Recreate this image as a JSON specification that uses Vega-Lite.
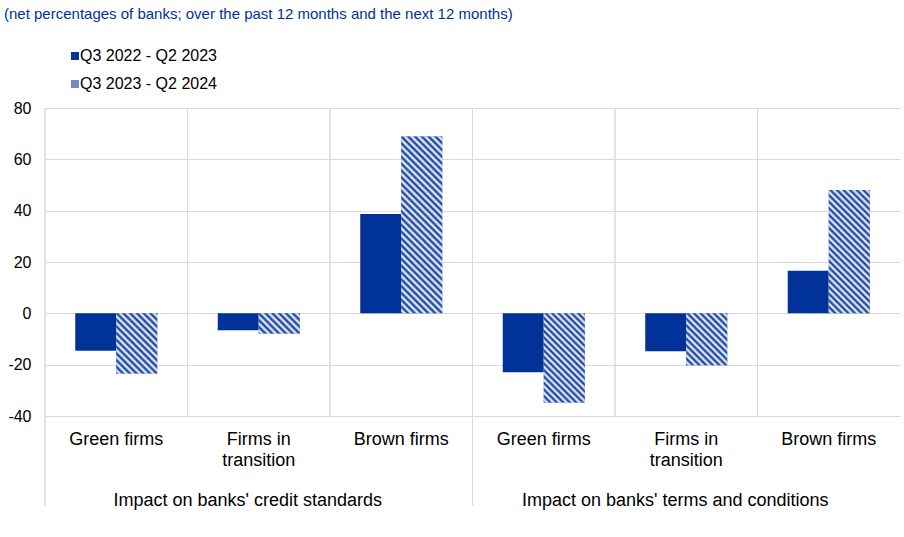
{
"$schema": "https://vega.github.io/schema/vega-lite/v6.json",
"width": 855,
"height": 308,
"autosize": {"type": "none"},
"padding": {"left": 45, "top": 108, "right": 4, "bottom": 121},
"background": "#ffffff",
"config": {"font": "Liberation Sans", "view": {"stroke": null},
 "axisX": {"title": null, "domain": false, "ticks": false, "grid": false, "labelAngle": 0, "labelFontSize": 18, "labelColor": "#000000", "labelPadding": 14, "labelLineHeight": 21, "labelLimit": 0,
  "labelExpr": "split(datum.value, '|')[0] === 'Firms in transition' ? ['Firms in', 'transition'] : split(datum.value, '|')[0]"},
 "axisY": {"title": null, "values": [-40, -20, 0, 20, 40, 60, 80], "domain": false, "ticks": false, "grid": true, "gridColor": "#d9d9d9", "labelFontSize": 16, "labelColor": "#000000", "labelPadding": 14,
  "labelExpr": "(datum.value < 0 ? '-' : '') + abs(datum.value)"}
},
"title": {"text": "(net percentages of banks; over the past 12 months and the next 12 months)", "anchor": "start", "frame": "group", "dx": -41, "offset": 26, "fontSize": 15, "fontWeight": "normal", "color": "#003299", "font": "Liberation Sans"},
"data": {"values": [
 {"cat": "Green firms|credit", "series": "Q3 2022 - Q2 2023", "value": -14.6},
 {"cat": "Green firms|credit", "series": "Q3 2023 - Q2 2024", "value": -23.4},
 {"cat": "Firms in transition|credit", "series": "Q3 2022 - Q2 2023", "value": -6.6},
 {"cat": "Firms in transition|credit", "series": "Q3 2023 - Q2 2024", "value": -7.9},
 {"cat": "Brown firms|credit", "series": "Q3 2022 - Q2 2023", "value": 38.7},
 {"cat": "Brown firms|credit", "series": "Q3 2023 - Q2 2024", "value": 68.9},
 {"cat": "Green firms|terms", "series": "Q3 2022 - Q2 2023", "value": -23.0},
 {"cat": "Green firms|terms", "series": "Q3 2023 - Q2 2024", "value": -34.7},
 {"cat": "Firms in transition|terms", "series": "Q3 2022 - Q2 2023", "value": -14.8},
 {"cat": "Firms in transition|terms", "series": "Q3 2023 - Q2 2024", "value": -20.2},
 {"cat": "Brown firms|terms", "series": "Q3 2022 - Q2 2023", "value": 16.6},
 {"cat": "Brown firms|terms", "series": "Q3 2023 - Q2 2024", "value": 48.1}
]},
"layer": [
 {
  "mark": {"type": "rule", "color": "#d9d9d9", "strokeWidth": 1},
  "encoding": {
   "x": {"field": "cat", "type": "nominal", "bandPosition": 0, "scale": {"domain": ["Green firms|credit", "Firms in transition|credit", "Brown firms|credit", "Green firms|terms", "Firms in transition|terms", "Brown firms|terms"], "paddingInner": 0, "paddingOuter": 0}},
   "y": {"datum": 80, "type": "quantitative", "scale": {"domain": [-40, 80], "nice": false, "zero": false}},
   "y2": {"datum": -40}
  }
 },
 {
  "transform": [{"filter": "datum.cat === 'Green firms|credit' || datum.cat === 'Green firms|terms'"}],
  "mark": {"type": "rule", "color": "#d9d9d9", "strokeWidth": 1},
  "encoding": {
   "x": {"field": "cat", "type": "nominal", "bandPosition": 0, "scale": {"domain": ["Green firms|credit", "Firms in transition|credit", "Brown firms|credit", "Green firms|terms", "Firms in transition|terms", "Brown firms|terms"], "paddingInner": 0, "paddingOuter": 0}},
   "y": {"datum": -40, "type": "quantitative", "scale": {"domain": [-40, 80], "nice": false, "zero": false}},
   "y2": {"datum": -75}
  }
 },
 {
  "mark": {"type": "bar"},
  "encoding": {
   "x": {"field": "cat", "type": "nominal", "scale": {"domain": ["Green firms|credit", "Firms in transition|credit", "Brown firms|credit", "Green firms|terms", "Firms in transition|terms", "Brown firms|terms"], "paddingInner": 0, "paddingOuter": 0}},
   "xOffset": {"field": "series", "type": "nominal", "scale": {"domain": ["Q3 2022 - Q2 2023", "Q3 2023 - Q2 2024"], "paddingInner": 0, "paddingOuter": 0.7378}},
   "y": {"field": "value", "type": "quantitative", "scale": {"domain": [-40, 80], "nice": false, "zero": false}},
   "fill": {"field": "series", "type": "nominal", "scale": {"domain": ["Q3 2022 - Q2 2023", "Q3 2023 - Q2 2024"], "range": ["#003299", "#7388c8"]},
    "legend": {"orient": "none", "legendX": 22, "legendY": -60, "title": null, "direction": "vertical", "labelFontSize": 16, "labelColor": "#000000", "symbolType": "square", "symbolSize": 64, "symbolStrokeWidth": 0, "rowPadding": 12, "labelOffset": -3}}
  }
 },
 {
  "transform": [{"filter": "datum.series === 'Q3 2023 - Q2 2024'"}],
  "mark": {"type": "bar"},
  "encoding": {
   "x": {"field": "cat", "type": "nominal", "scale": {"domain": ["Green firms|credit", "Firms in transition|credit", "Brown firms|credit", "Green firms|terms", "Firms in transition|terms", "Brown firms|terms"], "paddingInner": 0, "paddingOuter": 0}},
   "xOffset": {"field": "series", "type": "nominal", "scale": {"domain": ["Q3 2022 - Q2 2023", "Q3 2023 - Q2 2024"], "paddingInner": 0, "paddingOuter": 0.7378}},
   "y": {"field": "value", "type": "quantitative", "scale": {"domain": [-40, 80], "nice": false, "zero": false}},
   "fill": {"condition": [
    {"test": "datum.cat === 'Green firms|credit'", "value": {"gradient": "linear", "x1": 0, "y1": 1, "x2": 0.7831, "y2": -0.148, "stops": [
     {"offset": 0, "color": "#003299"}, {"offset": 0.0333, "color": "#ffffff"}, {"offset": 0.0667, "color": "#003299"}, {"offset": 0.1, "color": "#ffffff"}, {"offset": 0.1333, "color": "#003299"}, {"offset": 0.1667, "color": "#ffffff"}, {"offset": 0.2, "color": "#003299"}, {"offset": 0.2333, "color": "#ffffff"}, {"offset": 0.2667, "color": "#003299"}, {"offset": 0.3, "color": "#ffffff"}, {"offset": 0.3333, "color": "#003299"}, {"offset": 0.3667, "color": "#ffffff"}, {"offset": 0.4, "color": "#003299"}, {"offset": 0.4333, "color": "#ffffff"}, {"offset": 0.4667, "color": "#003299"}, {"offset": 0.5, "color": "#ffffff"}, {"offset": 0.5333, "color": "#003299"}, {"offset": 0.5667, "color": "#ffffff"}, {"offset": 0.6, "color": "#003299"}, {"offset": 0.6333, "color": "#ffffff"}, {"offset": 0.6667, "color": "#003299"}, {"offset": 0.7, "color": "#ffffff"}, {"offset": 0.7333, "color": "#003299"}, {"offset": 0.7667, "color": "#ffffff"}, {"offset": 0.8, "color": "#003299"}, {"offset": 0.8333, "color": "#ffffff"}, {"offset": 0.8667, "color": "#003299"}, {"offset": 0.9, "color": "#ffffff"}, {"offset": 0.9333, "color": "#003299"}, {"offset": 0.9667, "color": "#ffffff"}, {"offset": 1, "color": "#003299"}]}},
    {"test": "datum.cat === 'Firms in transition|credit'", "value": {"gradient": "linear", "x1": 0, "y1": 1, "x2": 1.2008, "y2": 0.4055, "stops": [
     {"offset": 0, "color": "#003299"}, {"offset": 0.0556, "color": "#ffffff"}, {"offset": 0.1111, "color": "#003299"}, {"offset": 0.1667, "color": "#ffffff"}, {"offset": 0.2222, "color": "#003299"}, {"offset": 0.2778, "color": "#ffffff"}, {"offset": 0.3333, "color": "#003299"}, {"offset": 0.3889, "color": "#ffffff"}, {"offset": 0.4444, "color": "#003299"}, {"offset": 0.5, "color": "#ffffff"}, {"offset": 0.5556, "color": "#003299"}, {"offset": 0.6111, "color": "#ffffff"}, {"offset": 0.6667, "color": "#003299"}, {"offset": 0.7222, "color": "#ffffff"}, {"offset": 0.7778, "color": "#003299"}, {"offset": 0.8333, "color": "#ffffff"}, {"offset": 0.8889, "color": "#003299"}, {"offset": 0.9444, "color": "#ffffff"}, {"offset": 1, "color": "#003299"}]}},
    {"test": "datum.cat === 'Brown firms|credit'", "value": {"gradient": "linear", "x1": 0, "y1": 1, "x2": 0.2711, "y2": -0.169, "stops": [
     {"offset": 0, "color": "#003299"}, {"offset": 0.0156, "color": "#ffffff"}, {"offset": 0.0313, "color": "#003299"}, {"offset": 0.0469, "color": "#ffffff"}, {"offset": 0.0625, "color": "#003299"}, {"offset": 0.0781, "color": "#ffffff"}, {"offset": 0.0938, "color": "#003299"}, {"offset": 0.1094, "color": "#ffffff"}, {"offset": 0.125, "color": "#003299"}, {"offset": 0.1406, "color": "#ffffff"}, {"offset": 0.1563, "color": "#003299"}, {"offset": 0.1719, "color": "#ffffff"}, {"offset": 0.1875, "color": "#003299"}, {"offset": 0.2031, "color": "#ffffff"}, {"offset": 0.2188, "color": "#003299"}, {"offset": 0.2344, "color": "#ffffff"}, {"offset": 0.25, "color": "#003299"}, {"offset": 0.2656, "color": "#ffffff"}, {"offset": 0.2813, "color": "#003299"}, {"offset": 0.2969, "color": "#ffffff"}, {"offset": 0.3125, "color": "#003299"}, {"offset": 0.3281, "color": "#ffffff"}, {"offset": 0.3438, "color": "#003299"}, {"offset": 0.3594, "color": "#ffffff"}, {"offset": 0.375, "color": "#003299"}, {"offset": 0.3906, "color": "#ffffff"}, {"offset": 0.4063, "color": "#003299"}, {"offset": 0.4219, "color": "#ffffff"}, {"offset": 0.4375, "color": "#003299"}, {"offset": 0.4531, "color": "#ffffff"}, {"offset": 0.4688, "color": "#003299"}, {"offset": 0.4844, "color": "#ffffff"}, {"offset": 0.5, "color": "#003299"}, {"offset": 0.5156, "color": "#ffffff"}, {"offset": 0.5313, "color": "#003299"}, {"offset": 0.5469, "color": "#ffffff"}, {"offset": 0.5625, "color": "#003299"}, {"offset": 0.5781, "color": "#ffffff"}, {"offset": 0.5938, "color": "#003299"}, {"offset": 0.6094, "color": "#ffffff"}, {"offset": 0.625, "color": "#003299"}, {"offset": 0.6406, "color": "#ffffff"}, {"offset": 0.6563, "color": "#003299"}, {"offset": 0.6719, "color": "#ffffff"}, {"offset": 0.6875, "color": "#003299"}, {"offset": 0.7031, "color": "#ffffff"}, {"offset": 0.7188, "color": "#003299"}, {"offset": 0.7344, "color": "#ffffff"}, {"offset": 0.75, "color": "#003299"}, {"offset": 0.7656, "color": "#ffffff"}, {"offset": 0.7813, "color": "#003299"}, {"offset": 0.7969, "color": "#ffffff"}, {"offset": 0.8125, "color": "#003299"}, {"offset": 0.8281, "color": "#ffffff"}, {"offset": 0.8438, "color": "#003299"}, {"offset": 0.8594, "color": "#ffffff"}, {"offset": 0.875, "color": "#003299"}, {"offset": 0.8906, "color": "#ffffff"}, {"offset": 0.9063, "color": "#003299"}, {"offset": 0.9219, "color": "#ffffff"}, {"offset": 0.9375, "color": "#003299"}, {"offset": 0.9531, "color": "#ffffff"}, {"offset": 0.9688, "color": "#003299"}, {"offset": 0.9844, "color": "#ffffff"}, {"offset": 1, "color": "#003299"}]}},
    {"test": "datum.cat === 'Green firms|terms'", "value": {"gradient": "linear", "x1": 0, "y1": 1, "x2": 0.5545, "y2": -0.205, "stops": [
     {"offset": 0, "color": "#003299"}, {"offset": 0.025, "color": "#ffffff"}, {"offset": 0.05, "color": "#003299"}, {"offset": 0.075, "color": "#ffffff"}, {"offset": 0.1, "color": "#003299"}, {"offset": 0.125, "color": "#ffffff"}, {"offset": 0.15, "color": "#003299"}, {"offset": 0.175, "color": "#ffffff"}, {"offset": 0.2, "color": "#003299"}, {"offset": 0.225, "color": "#ffffff"}, {"offset": 0.25, "color": "#003299"}, {"offset": 0.275, "color": "#ffffff"}, {"offset": 0.3, "color": "#003299"}, {"offset": 0.325, "color": "#ffffff"}, {"offset": 0.35, "color": "#003299"}, {"offset": 0.375, "color": "#ffffff"}, {"offset": 0.4, "color": "#003299"}, {"offset": 0.425, "color": "#ffffff"}, {"offset": 0.45, "color": "#003299"}, {"offset": 0.475, "color": "#ffffff"}, {"offset": 0.5, "color": "#003299"}, {"offset": 0.525, "color": "#ffffff"}, {"offset": 0.55, "color": "#003299"}, {"offset": 0.575, "color": "#ffffff"}, {"offset": 0.6, "color": "#003299"}, {"offset": 0.625, "color": "#ffffff"}, {"offset": 0.65, "color": "#003299"}, {"offset": 0.675, "color": "#ffffff"}, {"offset": 0.7, "color": "#003299"}, {"offset": 0.725, "color": "#ffffff"}, {"offset": 0.75, "color": "#003299"}, {"offset": 0.775, "color": "#ffffff"}, {"offset": 0.8, "color": "#003299"}, {"offset": 0.825, "color": "#ffffff"}, {"offset": 0.85, "color": "#003299"}, {"offset": 0.875, "color": "#ffffff"}, {"offset": 0.9, "color": "#003299"}, {"offset": 0.925, "color": "#ffffff"}, {"offset": 0.95, "color": "#003299"}, {"offset": 0.975, "color": "#ffffff"}, {"offset": 1, "color": "#003299"}]}},
    {"test": "datum.cat === 'Firms in transition|terms'", "value": {"gradient": "linear", "x1": 0, "y1": 1, "x2": 0.8718, "y2": -0.1015, "stops": [
     {"offset": 0, "color": "#003299"}, {"offset": 0.0357, "color": "#ffffff"}, {"offset": 0.0714, "color": "#003299"}, {"offset": 0.1071, "color": "#ffffff"}, {"offset": 0.1429, "color": "#003299"}, {"offset": 0.1786, "color": "#ffffff"}, {"offset": 0.2143, "color": "#003299"}, {"offset": 0.25, "color": "#ffffff"}, {"offset": 0.2857, "color": "#003299"}, {"offset": 0.3214, "color": "#ffffff"}, {"offset": 0.3571, "color": "#003299"}, {"offset": 0.3929, "color": "#ffffff"}, {"offset": 0.4286, "color": "#003299"}, {"offset": 0.4643, "color": "#ffffff"}, {"offset": 0.5, "color": "#003299"}, {"offset": 0.5357, "color": "#ffffff"}, {"offset": 0.5714, "color": "#003299"}, {"offset": 0.6071, "color": "#ffffff"}, {"offset": 0.6429, "color": "#003299"}, {"offset": 0.6786, "color": "#ffffff"}, {"offset": 0.7143, "color": "#003299"}, {"offset": 0.75, "color": "#ffffff"}, {"offset": 0.7857, "color": "#003299"}, {"offset": 0.8214, "color": "#ffffff"}, {"offset": 0.8571, "color": "#003299"}, {"offset": 0.8929, "color": "#ffffff"}, {"offset": 0.9286, "color": "#003299"}, {"offset": 0.9643, "color": "#ffffff"}, {"offset": 1, "color": "#003299"}]}},
    {"test": "datum.cat === 'Brown firms|terms'", "value": {"gradient": "linear", "x1": 0, "y1": 1, "x2": 0.3983, "y2": -0.1998, "stops": [
     {"offset": 0, "color": "#003299"}, {"offset": 0.02, "color": "#ffffff"}, {"offset": 0.04, "color": "#003299"}, {"offset": 0.06, "color": "#ffffff"}, {"offset": 0.08, "color": "#003299"}, {"offset": 0.1, "color": "#ffffff"}, {"offset": 0.12, "color": "#003299"}, {"offset": 0.14, "color": "#ffffff"}, {"offset": 0.16, "color": "#003299"}, {"offset": 0.18, "color": "#ffffff"}, {"offset": 0.2, "color": "#003299"}, {"offset": 0.22, "color": "#ffffff"}, {"offset": 0.24, "color": "#003299"}, {"offset": 0.26, "color": "#ffffff"}, {"offset": 0.28, "color": "#003299"}, {"offset": 0.3, "color": "#ffffff"}, {"offset": 0.32, "color": "#003299"}, {"offset": 0.34, "color": "#ffffff"}, {"offset": 0.36, "color": "#003299"}, {"offset": 0.38, "color": "#ffffff"}, {"offset": 0.4, "color": "#003299"}, {"offset": 0.42, "color": "#ffffff"}, {"offset": 0.44, "color": "#003299"}, {"offset": 0.46, "color": "#ffffff"}, {"offset": 0.48, "color": "#003299"}, {"offset": 0.5, "color": "#ffffff"}, {"offset": 0.52, "color": "#003299"}, {"offset": 0.54, "color": "#ffffff"}, {"offset": 0.56, "color": "#003299"}, {"offset": 0.58, "color": "#ffffff"}, {"offset": 0.6, "color": "#003299"}, {"offset": 0.62, "color": "#ffffff"}, {"offset": 0.64, "color": "#003299"}, {"offset": 0.66, "color": "#ffffff"}, {"offset": 0.68, "color": "#003299"}, {"offset": 0.7, "color": "#ffffff"}, {"offset": 0.72, "color": "#003299"}, {"offset": 0.74, "color": "#ffffff"}, {"offset": 0.76, "color": "#003299"}, {"offset": 0.78, "color": "#ffffff"}, {"offset": 0.8, "color": "#003299"}, {"offset": 0.82, "color": "#ffffff"}, {"offset": 0.84, "color": "#003299"}, {"offset": 0.86, "color": "#ffffff"}, {"offset": 0.88, "color": "#003299"}, {"offset": 0.9, "color": "#ffffff"}, {"offset": 0.92, "color": "#003299"}, {"offset": 0.94, "color": "#ffffff"}, {"offset": 0.96, "color": "#003299"}, {"offset": 0.98, "color": "#ffffff"}, {"offset": 1, "color": "#003299"}]}}
   ], "value": "#6f84c8"}
  }
 },
 {
  "data": {"values": [
   {"cat": "Firms in transition|credit", "label": "Impact on banks' credit standards"},
   {"cat": "Firms in transition|terms", "label": "Impact on banks' terms and conditions"}
  ]},
  "mark": {"type": "text", "fontSize": 18, "baseline": "alphabetic", "align": "center", "dx": -11, "color": "#000000", "font": "Liberation Sans"},
  "encoding": {
   "x": {"field": "cat", "type": "nominal", "scale": {"domain": ["Green firms|credit", "Firms in transition|credit", "Brown firms|credit", "Green firms|terms", "Firms in transition|terms", "Brown firms|terms"], "paddingInner": 0, "paddingOuter": 0}},
   "y": {"datum": -75, "type": "quantitative", "scale": {"domain": [-40, 80], "nice": false, "zero": false}},
   "text": {"field": "label"}
  }
 }
]
}
